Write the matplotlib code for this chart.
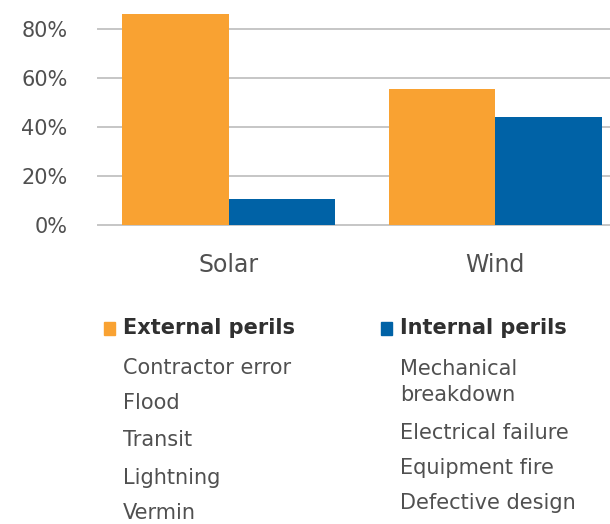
# Grouped bars: share of claims by peril type for solar and wind,
# with the peril lists underneath as a two-column key.

import matplotlib.pyplot as plt
from matplotlib.patches import Rectangle
from matplotlib.ticker import PercentFormatter
import numpy as np

technologies = ['Solar', 'Wind']
external_share = [86, 55.5]
internal_share = [10.7, 44]

external_perils = ['Contractor error', 'Flood', 'Transit', 'Lightning', 'Vermin']
internal_perils = ['Mechanical\nbreakdown', 'Electrical failure', 'Equipment fire',
                   'Defective design']

ORANGE = '#F9A232'
BLUE = '#0062A6'
GRID = '#C6C6C6'
TEXT = '#505050'
HEAD = '#303030'

plt.rcParams['font.family'] = ['DejaVu Sans']

W, H = 610, 524
fig = plt.figure(figsize=(W / 100, H / 100), dpi=100)
ax = fig.add_axes([98 / W, 1 - 225.3 / H, 1 - 98 / W, 225.3 / H])

pos = np.arange(len(technologies))
width = 0.4
ax.bar(pos - width / 2, external_share, width, color=ORANGE, zorder=3)
ax.bar(pos + width / 2, internal_share, width, color=BLUE, zorder=3)

ax.set_xlim(-0.49, 1.43)
ax.set_ylim(0, 91.7)
ax.set_yticks([0, 20, 40, 60, 80])
ax.yaxis.set_major_formatter(PercentFormatter(decimals=0))
ax.yaxis.grid(True, color=GRID, linewidth=1.4, zorder=0, clip_on=False)
ax.set_axisbelow(True)
for s in ax.spines.values():
    s.set_visible(False)
ax.tick_params(axis='y', length=0, pad=22, labelsize=15, labelcolor=TEXT)
ax.set_xticks(pos)
ax.set_xticklabels(technologies)
ax.tick_params(axis='x', length=0, pad=20, labelsize=17, labelcolor=TEXT)

# key underneath: coloured square, bold heading, then the perils
def key_column(x, colour, heading, items, ys):
    fig.add_artist(Rectangle(((x - 19) / W, 1 - 335 / H), 11 / W, 13 / H,
                             color=colour, transform=fig.transFigure))
    fig.text(x / W, 1 - 328 / H, heading, fontsize=15, fontweight='bold',
             color=HEAD, va='center', ha='left')
    for label, y in zip(items, ys):
        fig.text(x / W, 1 - y / H, label, fontsize=15, color=TEXT,
                 va='center', ha='left', linespacing=1.4)

key_column(123, ORANGE, 'External perils', external_perils, [368, 403, 440, 478, 513])
key_column(400, BLUE, 'Internal perils', internal_perils, [382, 433, 468, 503])

fig.savefig('out.png', dpi=100)
